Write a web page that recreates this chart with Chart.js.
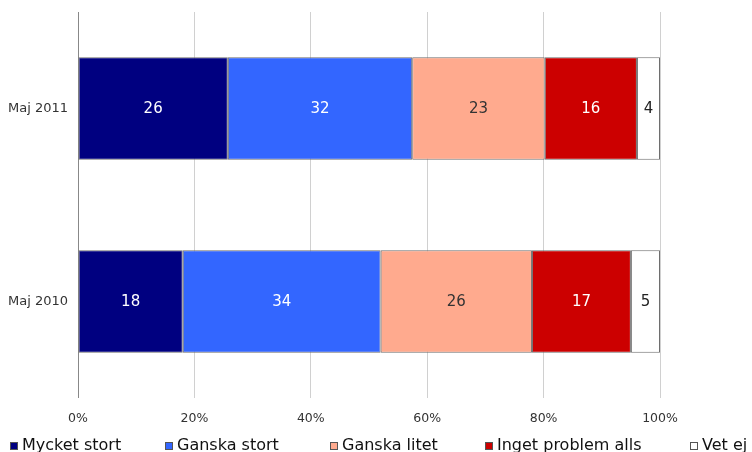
<!DOCTYPE html>
<html>
<head>
<meta charset="utf-8">
<script src="https://cdn.jsdelivr.net/npm/chart.js@4/dist/chart.umd.min.js"></script>
<style>
  html, body { margin: 0; padding: 0; background: #fff; }
  #wrap { width: 752px; height: 452px; }
</style>
</head>
<body>
<div id="wrap"><canvas id="myChart" width="752" height="452"></canvas></div>
<script>
let periods = ['Maj 2011', 'Maj 2010'];
let answers = ['Mycket stort', 'Ganska stort', 'Ganska litet', 'Inget problem alls', 'Vet ej'];
let mycketStort = [26, 18];
let ganskaStort = [32, 34];
let ganskaLitet = [23, 26];
let ingetProblem = [16, 17];
let vetEj = [4, 5];
let xTicks = [0, 20, 40, 60, 80, 100];

let colors = ['#000080', '#3366ff', '#ffaa8e', '#cc0000', '#ffffff'];
let labelColors = ['#ffffff', '#ffffff', '#333333', '#ffffff', '#222222'];
let legendX = [10, 165, 330, 485, 690];

let series = [mycketStort, ganskaStort, ganskaLitet, ingetProblem, vetEj];

// totals per row, bars are shares of the row total
let totals = periods.map((p, i) => series.reduce((s, arr) => s + arr[i], 0));

const FONT = 'DejaVu Sans, Verdana, sans-serif';

const valueLabels = {
  id: 'valueLabels',
  afterDatasetsDraw(chart) {
    const ctx = chart.ctx;
    ctx.save();
    ctx.font = '15px ' + FONT;
    ctx.textAlign = 'center';
    ctx.textBaseline = 'middle';
    chart.data.datasets.forEach((ds, di) => {
      chart.getDatasetMeta(di).data.forEach((bar, i) => {
        ctx.fillStyle = labelColors[di];
        let x = (bar.x + bar.base) / 2;
        ctx.fillText(series[di][i], x, bar.y + 1);
      });
    });
    ctx.restore();
  }
};

const bottomLegend = {
  id: 'bottomLegend',
  afterDraw(chart) {
    const ctx = chart.ctx;
    ctx.save();
    ctx.font = '16px ' + FONT;
    ctx.textBaseline = 'middle';
    answers.forEach((a, i) => {
      let x = legendX[i];
      ctx.fillStyle = colors[i];
      ctx.fillRect(x, 442, 8, 8);
      ctx.strokeStyle = '#555';
      ctx.lineWidth = 1;
      ctx.strokeRect(x + 0.5, 442.5, 7, 7);
      ctx.fillStyle = '#111';
      ctx.fillText(a, x + 12, 446);
    });
    ctx.restore();
  }
};

const ctx = document.getElementById('myChart').getContext('2d');
new Chart(ctx, {
  type: 'bar',
  data: {
    labels: periods,
    datasets: series.map((arr, di) => ({
      label: answers[di],
      data: arr.map((v, i) => v / totals[i] * 100),
      backgroundColor: colors[di],
      borderColor: '#6e6e6e',
      borderWidth: 1,
      borderSkipped: false,
      barPercentage: 0.53,
      categoryPercentage: 1
    }))
  },
  options: {
    indexAxis: 'y',
    responsive: false,
    animation: false,
    layout: { padding: { left: 0, right: 92, top: 12, bottom: 0 } },
    plugins: {
      legend: { display: false },
      tooltip: { enabled: false }
    },
    scales: {
      x: {
        stacked: true,
        min: 0,
        max: 100,
        afterBuildTicks: s => { s.ticks = xTicks.map(v => ({ value: v })); },
        afterFit: s => { s.height = 54; },
        border: { display: false },
        grid: {
          color: c => c.index === 0 ? '#888888' : '#d0d0d0',
          tickLength: 0,
          drawTicks: false
        },
        ticks: {
          padding: 13,
          color: '#333',
          font: { family: FONT, size: 12.5 },
          callback: v => v + '%'
        }
      },
      y: {
        stacked: true,
        afterFit: s => { s.width = 78; s.paddingTop = 0; s.paddingBottom = 0; },
        border: { display: false },
        grid: { display: false, drawTicks: false },
        ticks: {
          padding: 10,
          color: '#333',
          font: { family: FONT, size: 13 }
        }
      }
    }
  },
  plugins: [valueLabels, bottomLegend]
});
</script>
</body>
</html>
